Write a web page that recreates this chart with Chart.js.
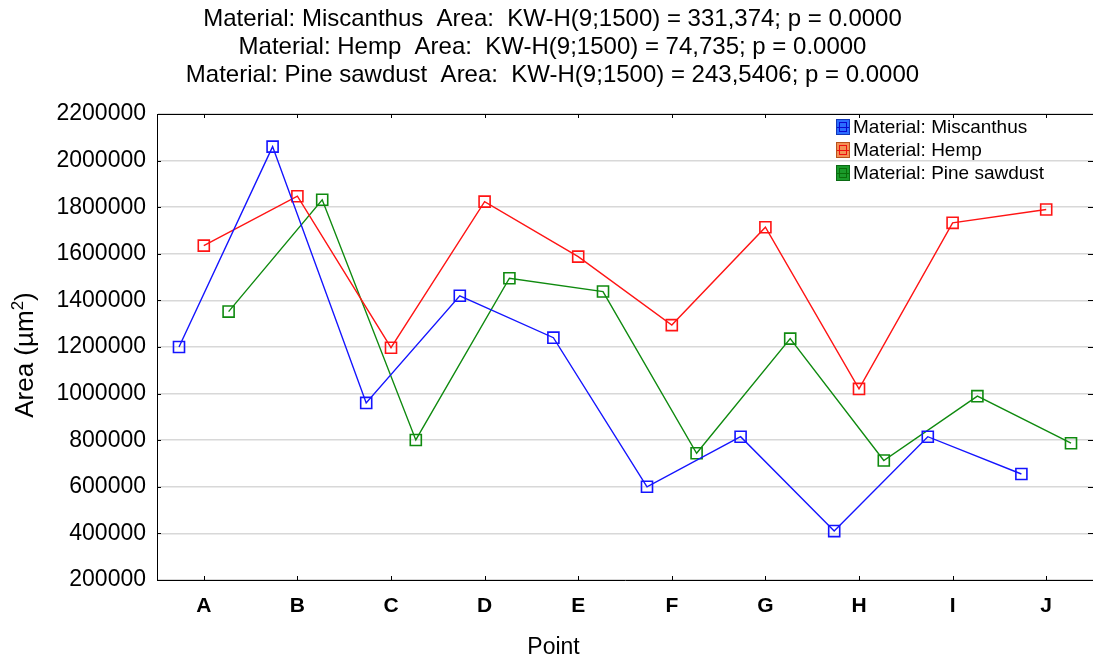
<!DOCTYPE html>
<html>
<head>
<meta charset="utf-8">
<title>Area by point</title>
<script src="https://cdn.jsdelivr.net/npm/chart.js@4.4.1/dist/chart.umd.min.js"></script>
<style>
  html, body { margin: 0; padding: 0; background: #ffffff; }
  #wrap { width: 1093px; height: 664px; }
</style>
</head>
<body>
<div id="wrap"><canvas id="chart" width="1093" height="664"></canvas></div>
<script>
// Category labels along the x axis
const points = ['A', 'B', 'C', 'D', 'E', 'F', 'G', 'H', 'I', 'J'];

// Mean area per point (µm²) for each material
const miscanthus  = [1200000, 2060000,  960000, 1420000, 1240000,  600000,  815000,  410000,  815000,  655000];
const hemp        = [1635000, 1847000, 1197000, 1824000, 1588000, 1294000, 1714000, 1020000, 1733000, 1790000];
const pineSawdust = [1352000, 1832000,  801000, 1495000, 1438000,  744000, 1236000,  713000,  989000,  787000];

// Y axis tick values
const yTicks = [200000, 400000, 600000, 800000, 1000000, 1200000, 1400000, 1600000, 1800000, 2000000, 2200000];

// Kruskal–Wallis summary lines shown as the title
const titleLines = [
  'Material: Miscanthus  Area:  KW-H(9;1500) = 331,374; p = 0.0000',
  'Material: Hemp  Area:  KW-H(9;1500) = 74,735; p = 0.0000',
  'Material: Pine sawdust  Area:  KW-H(9;1500) = 243,5406; p = 0.0000'
];

const FONT = '"Liberation Sans", Arial, sans-serif';

// Series styling; each material is nudged sideways around its category
const series = [
  { label: 'Material: Miscanthus',   values: miscanthus,  color: '#1414ff', shift: -0.265,
    keyFill: '#2b6dff', keyEdge: '#1238b8', keyInner: '#0a0ad0' },
  { label: 'Material: Hemp',         values: hemp,        color: '#ff1414', shift: 0,
    keyFill: '#f39055', keyEdge: '#b8521c', keyInner: '#ee1010' },
  { label: 'Material: Pine sawdust', values: pineSawdust, color: '#0f8a0f', shift: 0.265,
    keyFill: '#1a9a2a', keyEdge: '#0b6a14', keyInner: '#0a6e0a' }
];

const datasets = series.map(s => ({
  label: s.label,
  data: s.values.map((v, i) => ({ x: i + s.shift, y: v })),
  borderColor: s.color,
  borderWidth: 1.4,
  pointStyle: 'rect',
  pointRadius: 7.8,
  pointHoverRadius: 7.8,
  pointBorderWidth: 1.6,
  pointBorderColor: s.color,
  pointBackgroundColor: 'rgba(255,255,255,0)',
  tension: 0,
  fill: false,
  clip: 12
}));

// Three-line heading above the plot
const headingPlugin = {
  id: 'heading',
  afterDraw(chart) {
    const ctx = chart.ctx;
    ctx.save();
    ctx.fillStyle = '#000';
    ctx.font = '24px ' + FONT;
    ctx.textAlign = 'center';
    ctx.textBaseline = 'middle';
    titleLines.forEach((t, i) => ctx.fillText(t, chart.width / 2 + 6, 19 + i * 28));
    ctx.restore();
  }
};

// Axis titles: horizontal "Point" and vertical area label with a raised exponent
const axisTitlePlugin = {
  id: 'axisTitles',
  afterDraw(chart) {
    const ctx = chart.ctx;
    ctx.save();
    ctx.fillStyle = '#000';
    ctx.textBaseline = 'middle';
    ctx.textAlign = 'center';
    ctx.font = '23px ' + FONT;
    ctx.fillText('Point', chart.width / 2 + 7, 648);

    const main = '26px ' + FONT, sup = '17px ' + FONT;
    ctx.translate(25, 355);
    ctx.rotate(-Math.PI / 2);
    ctx.textAlign = 'left';
    ctx.font = main;
    const w1 = ctx.measureText('Area (µm').width;
    const w3 = ctx.measureText(')').width;
    ctx.font = sup;
    const w2 = ctx.measureText('2').width;
    let x = -(w1 + w2 + w3) / 2;
    ctx.font = main;
    ctx.fillText('Area (µm', x, 1);
    x += w1;
    ctx.font = sup;
    ctx.fillText('2', x, -7);
    x += w2;
    ctx.font = main;
    ctx.fillText(')', x, 1);
    ctx.restore();
  }
};

// Top frame line plus short inward tick marks on all four sides
const framePlugin = {
  id: 'frameTicks',
  afterDatasetsDraw(chart) {
    const { ctx, chartArea: a, scales } = chart;
    const tl = 4;
    ctx.save();
    ctx.strokeStyle = '#000';
    ctx.lineWidth = 1;
    ctx.beginPath();
    ctx.moveTo(a.left, a.top + 0.5);
    ctx.lineTo(a.right, a.top + 0.5);
    points.forEach((p, i) => {
      const x = Math.round(scales.x.getPixelForValue(i)) + 0.5;
      ctx.moveTo(x, a.bottom); ctx.lineTo(x, a.bottom - tl);
      ctx.moveTo(x, a.top); ctx.lineTo(x, a.top + tl);
    });
    yTicks.forEach(v => {
      const y = Math.round(scales.y.getPixelForValue(v)) + 0.5;
      ctx.moveTo(a.left, y); ctx.lineTo(a.left + tl, y);
      ctx.moveTo(a.right, y); ctx.lineTo(a.right - tl - 1, y);
    });
    ctx.stroke();
    ctx.restore();
  }
};

// Key in the upper right corner of the plot
const keyPlugin = {
  id: 'seriesKey',
  afterDraw(chart) {
    const { ctx, chartArea: a } = chart;
    const x0 = a.right - 257;
    let y = a.top + 13;
    ctx.save();
    series.forEach(s => {
      ctx.fillStyle = s.keyFill;
      ctx.fillRect(x0, y - 8, 14, 16);
      ctx.lineWidth = 1;
      ctx.strokeStyle = s.keyEdge;
      ctx.strokeRect(x0 + 0.5, y - 7.5, 13, 15);
      ctx.strokeStyle = s.keyInner;
      ctx.strokeRect(x0 + 3.5, y - 4.5, 7, 9);
      ctx.beginPath();
      ctx.moveTo(x0 + 1, y + 0.5);
      ctx.lineTo(x0 + 13, y + 0.5);
      ctx.stroke();
      ctx.fillStyle = '#000';
      ctx.font = '19px ' + FONT;
      ctx.textBaseline = 'middle';
      ctx.textAlign = 'left';
      ctx.fillText(s.label, x0 + 17, y + 1);
      y += 23;
    });
    ctx.restore();
  }
};

new Chart(document.getElementById('chart'), {
  type: 'line',
  data: { datasets },
  plugins: [framePlugin, keyPlugin, headingPlugin, axisTitlePlugin],
  options: {
    responsive: false,
    animation: false,
    devicePixelRatio: 1,
    layout: { autoPadding: false, padding: { left: 0, right: -2, top: 114, bottom: 0 } },
    plugins: {
      legend: { display: false },
      tooltip: { enabled: false },
      title: { display: false }
    },
    scales: {
      x: {
        type: 'linear',
        min: -0.5,
        max: 9.5,
        afterBuildTicks: sc => { sc.ticks = points.map((p, i) => ({ value: i })); },
        afterFit: sc => { sc.height = 84; sc.paddingLeft = 0; sc.paddingRight = -2; },
        grid: { display: false, drawTicks: false },
        border: { display: true, color: '#000', width: 1 },
        ticks: {
          callback: v => points[v],
          color: '#000',
          padding: 14,
          maxRotation: 0,
          font: { family: FONT, size: 21, weight: 'bold' }
        },
        title: { display: false }
      },
      y: {
        min: 200000,
        max: 2200000,
        afterBuildTicks: sc => { sc.ticks = yTicks.map(v => ({ value: v })); },
        afterFit: sc => { sc.width = 157; sc.paddingTop = 0; sc.paddingBottom = 0; },
        grid: { color: '#d8d8d8', lineWidth: 1.5, drawTicks: false },
        border: { display: true, color: '#000', width: 1 },
        ticks: {
          color: '#000',
          padding: 11,
          callback: v => String(v),
          font: { family: FONT, size: 23 }
        },
        title: { display: false }
      }
    }
  }
});
</script>
</body>
</html>
